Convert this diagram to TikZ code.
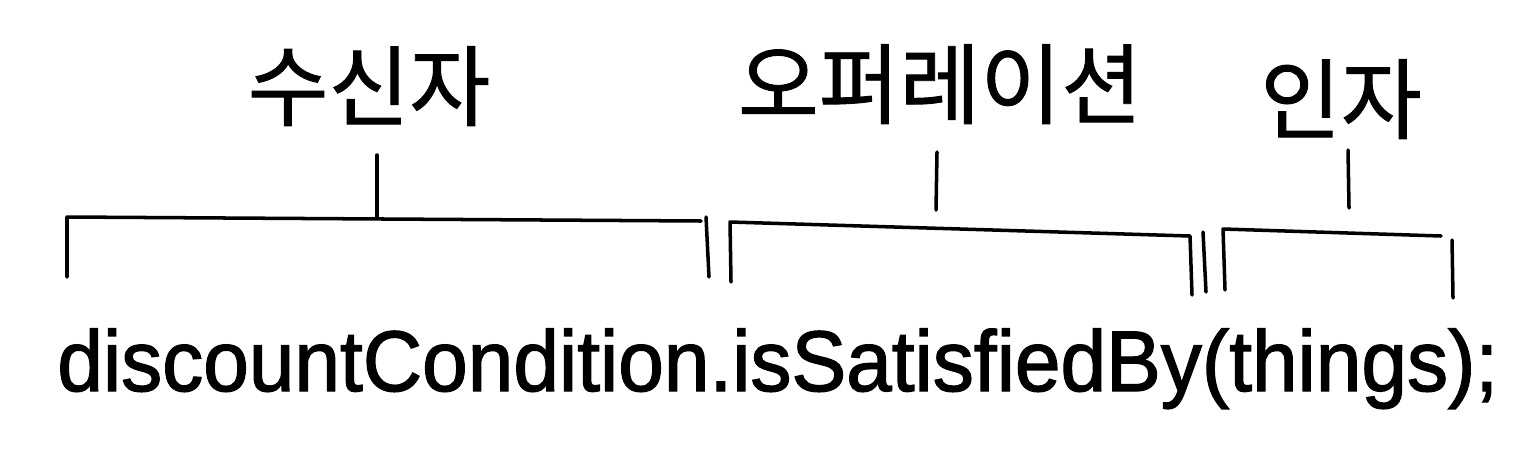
\documentclass[tikz,border=0pt]{standalone}
\usepackage{fontspec}
\setmainfont{Liberation Sans}
\newfontfamily\krfont[FakeBold=1]{Noto Sans CJK KR}
\newfontfamily\codefont[FakeBold=1.6]{Liberation Sans}
\usetikzlibrary{positioning}
\usetikzlibrary{calc}

\tikzset{
	sketch/.style={line width=2pt, line cap=round, line join=round},
	krlabel/.style={font=\krfont\fontsize{50}{54}\selectfont, anchor=base, inner sep=0pt},
	codeline/.style={font=\codefont\fontsize{49}{52}\selectfont, anchor=base west, inner sep=0pt}
}

\begin{document}
\begin{tikzpicture}[x=0.02cm, y=-0.02cm]
			\useasboundingbox (0,0) rectangle (1540,467);
			%labels
			\node[krlabel] (recv) at (369,119) {수신자};
			\node[krlabel] (oper) at (940,117) {오퍼레이션};
			\node[krlabel] (arg) at (1341,132) {인자};
			
			%code line
			\node[codeline] (code) at (57,391) {\scalebox{0.953}[1]{discountCondition.isSatisfiedBy(things);}};
			
			% receiver bracket
			\coordinate (recvL) at (67,277);
			\coordinate (recvTL) at (67,217);
			\coordinate (recvTR) at (701,221);
			\coordinate (recvTop) at (377,155);
			\coordinate (recvMid) at (377,217);
			\draw[sketch] (recvL) -- (recvTL) -- (recvTR);
			\draw[sketch] (706,217) -- (709,277);
			\draw[sketch] (recvTop) -- (recvMid);
			
			% operation bracket
			\coordinate (operL) at (731,282);
			\coordinate (operTL) at (730,222);
			\coordinate (operTR) at (1190,236);
			\coordinate (operR) at (1192,295);
			\coordinate (operTop) at (937,152);
			\coordinate (operMid) at (936,210);
			\draw[sketch] (operL) -- (operTL) -- (operTR) -- (operR);
			\draw[sketch] (1203,232) -- (1206,292);
			\draw[sketch] (operTop) -- (operMid);
			
			% argument bracket
			\coordinate (argL) at (1225,290);
			\coordinate (argTL) at (1223,229);
			\coordinate (argTR) at (1441,236);
			\coordinate (argTop) at (1348,150);
			\coordinate (argMid) at (1349,208);
			\draw[sketch] (argL) -- (argTL) -- (argTR);
			\draw[sketch] (1452,240) -- (1453,298);
			\draw[sketch] (argTop) -- (argMid);
			
		\end{tikzpicture}
\end{document}
